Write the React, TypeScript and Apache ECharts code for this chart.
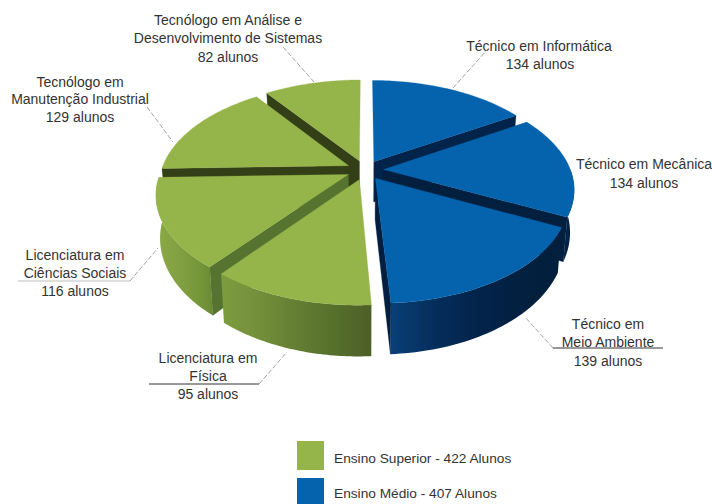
import React, { useEffect, useRef } from "react";
import * as echarts from "echarts";

// Enrolment per course, clockwise from twelve o'clock
const courseNames = [
  "Técnico em Informática",
  "Técnico em Mecânica",
  "Técnico em Meio Ambiente",
  "Licenciatura em Física",
  "Licenciatura em Ciências Sociais",
  "Tecnólogo em Manutenção Industrial",
  "Tecnólogo em Análise e Desenvolvimento de Sistemas",
];
const courseStudents = [134, 134, 139, 95, 116, 129, 82];
const courseLevels = [1, 1, 1, 0, 0, 0, 0];
const levelNames = ["Ensino Superior - 422 Alunos", "Ensino Médio - 407 Alunos"];

const FONT = '"Liberation Sans", Arial, sans-serif';
const TEXT_COLOR = "#333333";
const LEADER_COLOR = "#8a8a8a";

// Disc-to-screen perspective
const CX = 365;
const CY = 170;
const RX = 204.5;
const RY = 108;
const DEPTH = 41;
const PERSP = 0.2;
const RADIUS = 0.915;
const EXPLODE = 0.09;

const total = courseStudents.reduce((a, b) => a + b, 0);
const TAU = Math.PI * 2;

function project(u: number, v: number, z: number): number[] {
  const w = 1 - PERSP * v;
  return [CX + ((RX * u) / w) * (1 - 0.02 * z), CY + (RY * v + DEPTH * z) / w];
}

const sliceAngles = courseStudents.map((_, i) => {
  const before = courseStudents.slice(0, i).reduce((a, b) => a + b, 0);
  return [(before / total) * TAU, ((before + courseStudents[i]) / total) * TAU];
});

// Back slices are painted first so nearer ones overlap them
const paintOrder = courseStudents
  .map((_, i) => i)
  .sort((a, b) => {
    const mid = (k: number) => (sliceAngles[k][0] + sliceAngles[k][1]) / 2;
    return -Math.cos(mid(a)) - -Math.cos(mid(b));
  });

const topFill = ["#95b54a", "#0563ad"];
const rimStops: string[][] = [
  ["#03264c", "#032a55"],
  ["#02234a", "#021f40"],
  ["#093f78", "#052e5c", "#03244b", "#02203f", "#021e3c"],
  ["#7d9c3e", "#748f3a", "#647e33", "#56702c", "#4c5f27"],
  ["#8ba946", "#86a443", "#7f9e40", "#759639", "#6a8b35"],
  ["#7d9c3e", "#6f8e38"],
  ["#5d7a2e", "#4c6026"],
];
const cutFill = ["#02234a", "#021f40", "#021f40", "#4c6026", "#567430", "#333f16", "#333f16"];

function arcPoints(a0: number, a1: number, ou: number, ov: number): number[][] {
  const pts: number[][] = [];
  const steps = 48;
  for (let s = 0; s <= steps; s++) {
    const a = a0 + ((a1 - a0) * s) / steps;
    pts.push([ou + Math.sin(a) * RADIUS, ov - Math.cos(a) * RADIUS]);
  }
  return pts;
}

function renderSlice(_params: any, api: any) {
  const idx = api.value(0) as number;
  const [a0, a1] = sliceAngles[idx];
  const mid = (a0 + a1) / 2;
  const ou = Math.sin(mid) * EXPLODE;
  const ov = -Math.cos(mid) * EXPLODE;

  const arc = arcPoints(a0, a1, ou, ov);
  const poly = (pts: number[][], fill: any, seam: boolean) => ({
    type: "polygon",
    silent: true,
    shape: { points: pts },
    style: seam ? { fill, stroke: fill, lineWidth: 0.3 } : { fill },
  });
  const wall = (p: number[], q: number[]) => [
    project(p[0], p[1], 0),
    project(q[0], q[1], 0),
    project(q[0], q[1], 1),
    project(p[0], p[1], 1),
  ];

  const children: any[] = [];

  // Only the part of the outer wall turned towards the viewer is drawn
  const frontFrom = Math.max(a0, Math.PI / 2);
  const frontTo = Math.min(a1, (Math.PI * 3) / 2);
  if (frontFrom < frontTo) {
    const front = arcPoints(frontFrom, frontTo, ou, ov);
    const stops = rimStops[idx];
    const rimFill = new echarts.graphic.LinearGradient(
      0, 0, 1, 0,
      stops.map((color, i) => ({ offset: i / (stops.length - 1), color })),
    );
    const rim = [
      ...front.map((p) => project(p[0], p[1], 0)),
      ...front.slice().reverse().map((p) => project(p[0], p[1], 1)),
    ];
    children.push(poly(rim, rimFill, false));
  }

  // Cut faces, likewise only when they face the viewer
  if (-Math.sin(a0) > 0.001) children.push(poly(wall([ou, ov], arc[0]), cutFill[idx], true));
  if (Math.sin(a1) > 0.001) children.push(poly(wall([ou, ov], arc[arc.length - 1]), cutFill[idx], true));

  const top = [project(ou, ov, 0), ...arc.map((p) => project(p[0], p[1], 0))];
  children.push(poly(top, topFill[courseLevels[idx]], true));

  return { type: "group", children };
}

// Course captions, one row per line: centre x, centre y, text
const captionRows: [number, number, string][] = [
  [228, 20, "Tecnólogo em Análise e"],
  [228, 38, "Desenvolvimento de Sistemas"],
  [228, 57, "82 alunos"],
  [80, 82, "Tecnólogo em"],
  [80, 99, "Manutenção Industrial"],
  [80, 117, "129 alunos"],
  [75, 255, "Licenciatura em"],
  [75, 273, "Ciências Sociais"],
  [75, 291, "116 alunos"],
  [208, 358, "Licenciatura em"],
  [208, 376, "Física"],
  [208, 394, "95 alunos"],
  [539, 46, "Técnico em Informática"],
  [540, 64, "134 alunos"],
  [644, 164, "Técnico em Mecânica"],
  [644, 183, "134 alunos"],
  [608, 324, "Técnico em"],
  [608, 342, "Meio Ambiente"],
  [608, 361, "139 alunos"],
];

const leaders: number[][][] = [
  [[283, 47], [314, 82]],
  [[147, 107], [173, 142]],
  [[130, 281], [158, 248]],
  [[259, 384], [287, 352]],
  [[553, 348], [525, 317]],
  [[453, 88], [487, 50]],
];

const underlines: [number, number, number, string][] = [
  [18, 130, 281, "#bdbdbd"],
  [149, 259, 384, "#333333"],
  [553, 663, 348, "#333333"],
];

export default function App() {
  const ref = useRef<HTMLDivElement>(null);

  useEffect(() => {
    const chart = echarts.init(ref.current!, undefined, { renderer: "svg" });
    const graphics: any[] = [];
    captionRows.forEach(([x, y, text]) =>
      graphics.push({
        type: "text",
        x,
        y,
        style: { text, fill: TEXT_COLOR, font: `14px ${FONT}`, align: "center", verticalAlign: "middle" },
      }),
    );
    leaders.forEach(([p, q]) =>
      graphics.push({
        type: "line",
        shape: { x1: p[0], y1: p[1], x2: q[0], y2: q[1] },
        style: { stroke: LEADER_COLOR, lineWidth: 0.8, lineDash: [5, 2] },
      }),
    );
    underlines.forEach(([x1, x2, y, stroke]) =>
      graphics.push({ type: "line", shape: { x1, y1: y, x2, y2: y }, style: { stroke, lineWidth: 1 } }),
    );
    levelNames.forEach((text, i) => {
      const y = 441 + i * 37;
      graphics.push({
        type: "rect",
        shape: { x: 297, y, width: 27, height: 29 },
        style: { fill: topFill[i] },
      });
      graphics.push({
        type: "text",
        x: 334,
        y: i === 0 ? 458 : 493,
        style: { text, fill: TEXT_COLOR, font: `13.7px ${FONT}`, align: "left", verticalAlign: "middle" },
      });
    });

    chart.setOption({
      animation: false,
      backgroundColor: "#ffffff",
      graphic: graphics,
      series: [
        {
          type: "custom",
          coordinateSystem: "none",
          name: "Alunos",
          renderItem: renderSlice,
          data: paintOrder.map((i) => ({ name: courseNames[i], value: [i, courseStudents[i]] })),
          silent: true,
        },
      ],
    });
    return () => chart.dispose();
  }, []);

  return <div ref={ref} style={{ position: "absolute", left: 0, top: 0, width: 712, height: 504 }} />;
}
